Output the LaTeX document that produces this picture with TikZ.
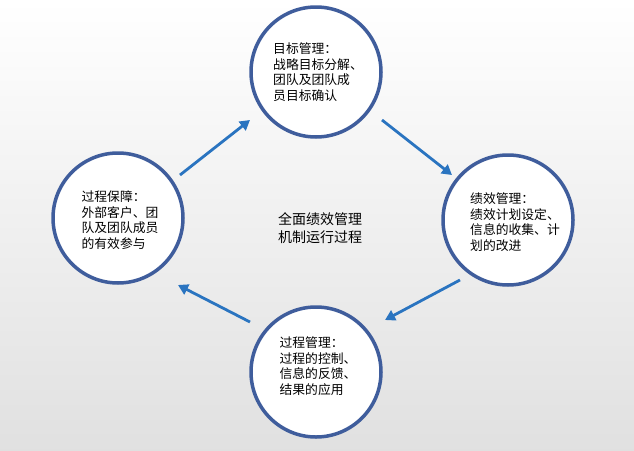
\documentclass[tikz,border=0pt]{standalone}
\usepackage{fontspec}
\setmainfont{Noto Sans CJK SC}
\usetikzlibrary{arrows.meta}
\definecolor{ring}{HTML}{3F5D9C}
\definecolor{arr}{HTML}{2A74C0}
\begin{document}
\begin{tikzpicture}[x=1pt,y=-1pt,
  circ/.style={circle,draw=ring,line width=3.5pt,fill=white,minimum size=130pt,inner sep=0pt},
  txt/.style={align=left,font=\fontsize{12.8}{15.5}\selectfont,text=black},
  flow/.style={draw=arr,line width=2.8pt,-{Triangle[length=10pt,width=11pt]}}]
\shade[top color=white,bottom color=black!12] (0,0) rectangle (634,450);
\useasboundingbox (0,0) rectangle (634,450);
\node[circ] (t) at (316,72) {};
\node[circ] (r) at (508,220) {};
\node[circ] (b) at (316,372) {};
\node[circ] (l) at (118,218) {};
\node[txt] (tt) at (318,72) {目标管理：\\战略目标分解、\\团队及团队成\\员目标确认};
\node[txt] (rt) at (515,222) {绩效管理：\\绩效计划设定、\\信息的收集、计\\划的改进};
\node[txt] (bt) at (318,366) {过程管理：\\过程的控制、\\信息的反馈、\\结果的应用};
\node[txt] (lt) at (120,220) {过程保障：\\外部客户、团\\队及团队成员\\的有效参与};
\node[txt,align=center,font=\fontsize{14}{18}\selectfont] (c) at (320,228) {全面绩效管理\\机制运行过程};
\coordinate (a1s) at (180,175); \coordinate (a1e) at (250,120);
\coordinate (a2s) at (382,120); \coordinate (a2e) at (452,175);
\coordinate (a3s) at (460,280); \coordinate (a3e) at (385,320);
\coordinate (a4s) at (250,322); \coordinate (a4e) at (178,285);
\draw[flow] (a1s) -- (a1e);
\draw[flow] (a2s) -- (a2e);
\draw[flow] (a3s) -- (a3e);
\draw[flow] (a4s) -- (a4e);
\end{tikzpicture}
\end{document}
